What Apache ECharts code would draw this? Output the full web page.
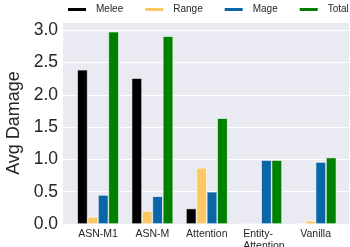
<!DOCTYPE html>
<html><head><meta charset="utf-8">
<script src="https://cdn.jsdelivr.net/npm/echarts@6/dist/echarts.min.js"></script>
<style>html,body{margin:0;padding:0;background:#fff}#c{width:350px;height:247px}</style>
</head><body><div id="c"></div>
<script>
const categories = ['ASN-M1', 'ASN-M', 'Attention', 'Entity-\nAttention', 'Vanilla'];
const melee = [2.39, 2.26, 0.24, 0, 0.005];
const range = [0.11, 0.20, 0.87, 0, 0.05];
const mage = [0.45, 0.43, 0.50, 0.99, 0.96];
const total = [2.98, 2.91, 1.64, 0.99, 1.03];
const yTicks = [0, 0.5, 1.0, 1.5, 2.0, 2.5, 3.0];

const FONT = 'Liberation Sans, Arial, sans-serif';
const chart = echarts.init(document.getElementById('c'), null, {renderer: 'canvas'});
const yMax = 3.13;
function mk(name, data, color) {
  return {
    name, type: 'bar', data, xAxisIndex: 1, yAxisIndex: 1,
    barWidth: 10.4, barGap: '0%',
    itemStyle: {color, borderColor: '#ffffff', borderWidth: 0.6},
    emphasis: {disabled: true}
  };
}
chart.setOption({
  animation: false,
  legend: {
    left: 66, top: 4.5, width: 290, padding: 0, itemWidth: 20, itemHeight: 5, itemGap: 20, icon: 'rect',
    textStyle: {fontFamily: FONT, fontSize: 10, color: '#262626', padding: [0, 0, 0, 4]},
    data: ['Melee', 'Range', 'Mage', 'Total']
  },
  grid: [
    {left: 63, right: 1, top: 22, bottom: 23, show: true, backgroundColor: '#EAEAF2', borderWidth: 0, containLabel: false, outerBoundsMode: 'none'},
    {left: 70.8, right: 7.2, top: 22, bottom: 23, containLabel: false, outerBoundsMode: 'none'}
  ],
  xAxis: [
    {type: 'value', gridIndex: 0, min: 0, max: 1, show: false},
    {type: 'category', gridIndex: 1, data: categories,
     axisLine: {show: false}, axisTick: {show: false},
     axisLabel: {interval: 0, margin: 4, fontFamily: FONT, fontSize: 10.5, color: '#262626', lineHeight: 12,
       formatter: v => v.indexOf('\n') >= 0 ? '{l|' + v.split('\n').join('}\n{l|') + '}' : v,
       rich: {l: {align: 'left', fontFamily: FONT, fontSize: 10.5, color: '#262626', lineHeight: 12, width: 36}}}}
  ],
  yAxis: [
    {type: 'value', gridIndex: 0, min: 0, max: yMax, interval: 0.5,
     name: 'Avg Damage', nameLocation: 'middle', nameGap: 36,
     nameTextStyle: {fontFamily: FONT, fontSize: 18, color: '#262626'},
     axisLine: {show: false}, axisTick: {show: false},
     axisLabel: {margin: 5, fontFamily: FONT, fontSize: 17.5, color: '#262626',
       formatter: v => yTicks.some(t => Math.abs(t - v) < 1e-6) ? v.toFixed(1) : ''},
     splitLine: {show: true, lineStyle: {color: '#ffffff', width: 1}}},
    {type: 'value', gridIndex: 1, min: 0, max: yMax, show: false, splitLine: {show: false}}
  ],
  series: [
    mk('Melee', melee, '#000000'),
    mk('Range', range, '#FBC864'),
    mk('Mage', mage, '#0A66A6'),
    mk('Total', total, '#008000')
  ]
});
</script></body></html>
